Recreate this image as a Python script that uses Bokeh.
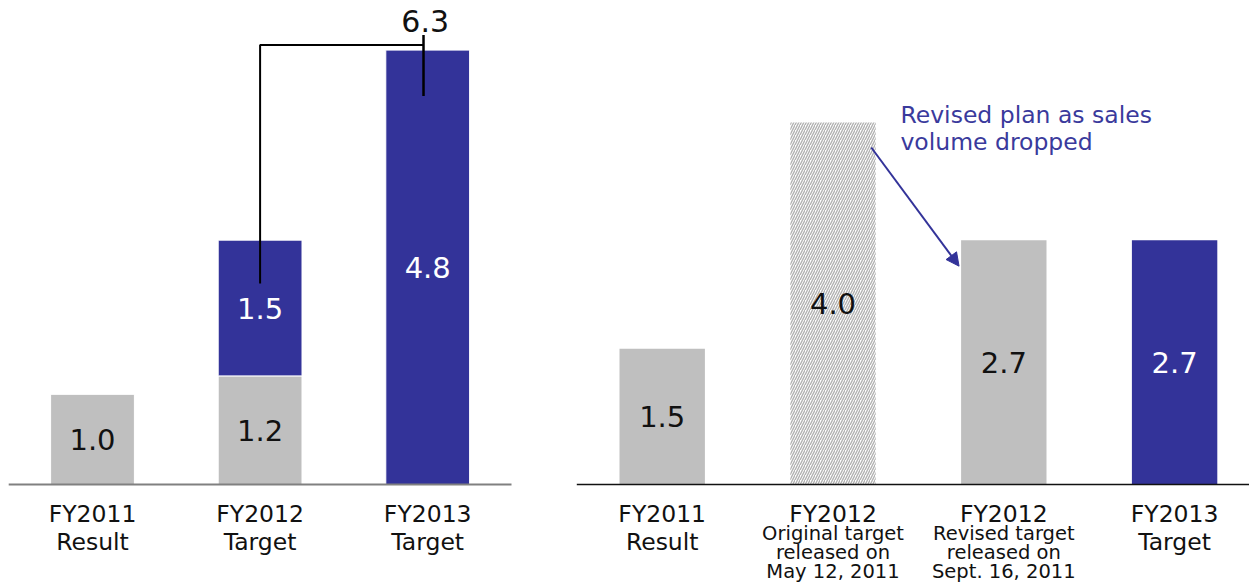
import numpy as np
from bokeh.plotting import figure
from bokeh.layouts import row
from bokeh.models import ColumnDataSource, Range1d, Arrow, NormalHead
from bokeh.core.properties import value
from bokeh.embed import file_html
from bokeh.resources import INLINE

# ---------------- data ----------------
# Left panel: FY2012 is a stack of the carried-over amount (gray) and the new target (blue)
left_years = ["FY2011", "FY2012", "FY2013"]
left_subs = ["Result", "Target", "Target"]
left_gray = [1.0, 1.2, 0.0]
left_blue = [0.0, 1.5, 4.8]

# Right panel
right_years = ["FY2011", "FY2012", "FY2012", "FY2013"]
right_subs = ["Result", "Original target\nreleased on\nMay 12, 2011",
              "Revised target\nreleased on\nSept. 16, 2011", "Target"]
right_small_sub = [False, True, True, False]
right_vals = [1.5, 4.0, 2.7, 2.7]
right_kind = ["gray", "hatch", "gray", "blue"]

note_lines = ["Revised plan as sales", "volume dropped"]

# ---------------- styling ----------------
FONT = value("DejaVu Sans")
GRAY = "#bfbfbf"
BLUE = "#333399"
NOTE_BLUE = "#3a3a9c"
INK = "#111111"

H = 585
BASE_PX = 484          # baseline distance from the top
PX_PER_UNIT = 90.5
Y_END = BASE_PX / PX_PER_UNIT
Y_START = -(H - BASE_PX) / PX_PER_UNIT


def px(d):
    """vertical pixel offset -> data units"""
    return d / PX_PER_UNIT


def make_fig(width, first_center_px, step_px):
    p = figure(width=width, height=H, output_backend="svg", toolbar_location=None,
               x_axis_type=None, y_axis_type=None, min_border=0,
               x_range=Range1d(-first_center_px / step_px, (width - first_center_px) / step_px),
               y_range=Range1d(Y_START, Y_END))
    p.grid.visible = False
    p.outline_line_color = None
    p.background_fill_color = "white"
    p.border_fill_color = "white"
    return p


def category_labels(p, xs, years, subs, small_flags):
    main_x, main_y, main_t = [], [], []
    sm_x, sm_y, sm_t = [], [], []
    for x, yr, sub, small in zip(xs, years, subs, small_flags):
        main_x.append(x); main_y.append(px(-29)); main_t.append(yr)
        if small:
            for k, line in enumerate(sub.split("\n")):
                sm_x.append(x); sm_y.append(px(-49 - 19 * k)); sm_t.append(line)
        else:
            main_x.append(x); main_y.append(px(-57)); main_t.append(sub)
    p.text(x=main_x, y=main_y, text=main_t, text_font=FONT, text_font_size="23.5px",
           text_align="center", text_baseline="middle", text_color=INK)
    if sm_t:
        p.text(x=sm_x, y=sm_y, text=sm_t, text_font=FONT, text_font_size="19.5px",
               text_align="center", text_baseline="middle", text_color=INK)


# ---------------- left panel ----------------
lx = np.arange(len(left_years))
left_top = [g + b for g, b in zip(left_gray, left_blue)]
p1 = make_fig(545, 92.0, 167.6)

p1.vbar(x=lx, bottom=0, top=left_gray, width=0.5, fill_color=GRAY,
        line_color="white", line_width=1)
p1.vbar(x=lx, bottom=left_gray, top=left_top, width=0.5, fill_color=BLUE,
        line_color="white", line_width=1)

# value labels in the middle of each segment
vx, vy, vt, vc = [], [], [], []
for x, g, b in zip(lx, left_gray, left_blue):
    if g > 0:
        vx.append(x); vy.append(g / 2); vt.append(f"{g:.1f}"); vc.append(INK)
    if b > 0:
        vx.append(x); vy.append(g + b / 2); vt.append(f"{b:.1f}"); vc.append("white")
p1.text(x=vx, y=vy, text=vt, text_color=vc, text_font=FONT, text_font_size="29px",
        text_align="center", text_baseline="middle")

p1.segment(x0=-0.5, y0=0, x1=len(left_years) - 0.5, y1=0, line_color="#808080", line_width=2)

# bracket joining the FY2012 and FY2013 blue amounts
total_blue = left_blue[1] + left_blue[2]
stem_x, tick_x = lx[1], lx[2] - 0.025
stem_bottom = left_gray[1] + left_blue[1] * 0.68
bracket_top = left_blue[2] + px(5)
p1.line(x=[stem_x, stem_x, tick_x], y=[stem_bottom, bracket_top, bracket_top],
        line_color="black", line_width=2)
p1.segment(x0=tick_x, y0=bracket_top + px(10), x1=tick_x, y1=left_blue[2] - px(46),
           line_color="black", line_width=2.5)
p1.text(x=[tick_x + 0.01], y=[bracket_top + px(24)], text=[f"{total_blue:.1f}"],
        text_font=FONT, text_font_size="30px", text_align="center",
        text_baseline="middle", text_color=INK)

category_labels(p1, lx, left_years, left_subs, [False] * len(left_years))

# ---------------- right panel ----------------
rx = np.arange(len(right_years))
p2 = make_fig(704, 116.7, 170.8)

src = ColumnDataSource(dict(
    x=rx, top=right_vals,
    fill=[{"gray": GRAY, "hatch": "white", "blue": BLUE}[k] for k in right_kind],
    hatch=["/" if k == "hatch" else " " for k in right_kind],
))
p2.vbar(x="x", bottom=0, top="top", width=0.5, source=src, fill_color="fill",
        hatch_pattern="hatch", hatch_color="#b2b2b2", hatch_scale=5, hatch_weight=1.4,
        line_color=None)

p2.text(x=rx, y=[v / 2 for v in right_vals], text=[f"{v:.1f}" for v in right_vals],
        text_color=["white" if k == "blue" else INK for k in right_kind],
        text_font=FONT, text_font_size="29px", text_align="center", text_baseline="middle")

p2.segment(x0=-0.5, y0=0, x1=len(right_years), y1=0, line_color="#111111", line_width=1.5)

# note and arrow from the original target to the revised one
p2.text(x=[rx[1] + 0.395] * len(note_lines),
        y=[right_vals[1] + px(7.5) - px(27 * k) for k in range(len(note_lines))],
        text=note_lines, text_font=FONT, text_font_size="23.5px", text_align="left",
        text_baseline="middle", text_color=NOTE_BLUE)
p2.add_layout(Arrow(x_start=rx[1] + 0.224, y_start=right_vals[1] - px(25),
                    x_end=rx[2] - 0.262, y_end=right_vals[2] - px(26),
                    line_color=BLUE, line_width=2,
                    end=NormalHead(size=13, fill_color=BLUE, line_color=BLUE)))

category_labels(p2, rx, right_years, right_subs, right_small_sub)

layout = row(p1, p2)
open("out.html", "w").write(file_html(layout, INLINE))
